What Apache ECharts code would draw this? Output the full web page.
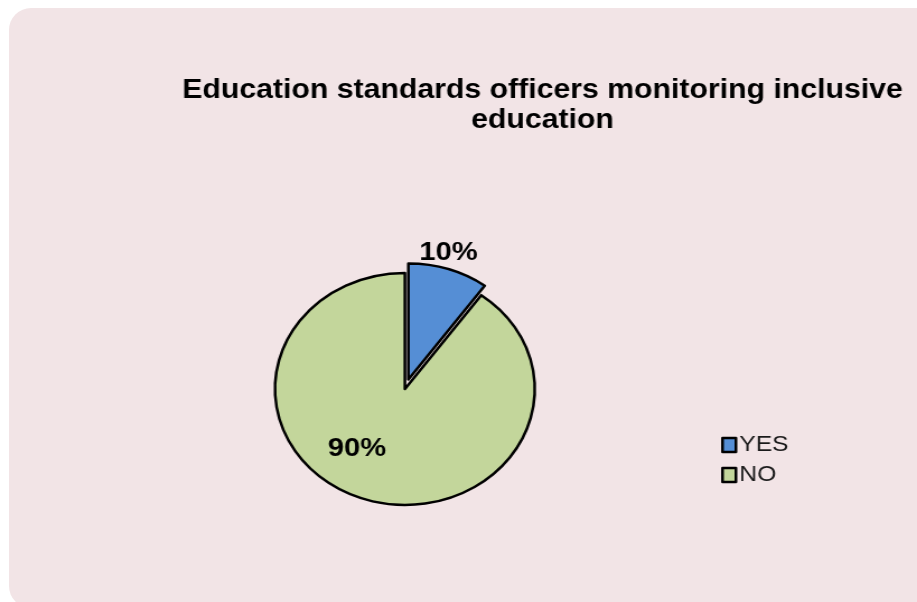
<!DOCTYPE html>
<html>
<head>
<meta charset="utf-8">
<title>Education standards officers monitoring inclusive education</title>
<script src="https://cdn.jsdelivr.net/npm/echarts@6/dist/echarts.min.js"></script>
<style>
  html, body { margin: 0; padding: 0; width: 917px; height: 602px; overflow: hidden; background: #ffffff; }
  #panel {
    position: absolute; left: 9px; top: 8px; width: 930px; height: 600px;
    background: #f2e4e6; border-radius: 22px;
  }
  /* the chart is laid out narrower and widened horizontally */
  #chart {
    position: absolute; left: 0; top: 0; width: 819px; height: 602px;
    transform: scaleX(1.1197); transform-origin: 0 0;
  }
</style>
</head>
<body>
<div id="panel"></div>
<div id="chart"></div>
<script>
// Survey answers and their percentage shares
const categories = ['YES', 'NO'];
const shares = [10, 90];
const chartTitle = 'Education standards officers monitoring inclusive\neducation';

const palette = ['#558ed5', '#c3d69b'];
const fontFamily = '"Liberation Sans", Arial, Helvetica, sans-serif';

const chart = echarts.init(document.getElementById('chart'), null, { renderer: 'canvas' });

const pieData = categories.map((name, i) => ({
  name: name,
  value: shares[i],
  selected: i === 0,
  label: { position: i === 0 ? 'outside' : 'inside' }
}));

chart.setOption({
  animation: false,
  color: palette,
  title: {
    text: chartTitle,
    left: 479.5,
    top: 71,
    textAlign: 'center',
    textStyle: {
      fontFamily: fontFamily,
      fontSize: 27,
      fontWeight: 'bold',
      color: '#000000',
      lineHeight: 30
    }
  },
  legend: {
    orient: 'vertical',
    left: 639,
    top: 429,
    itemWidth: 12,
    itemHeight: 14,
    itemGap: 8,
    icon: 'rect',
    selectedMode: false,
    data: categories,
    itemStyle: { borderColor: '#000000', borderWidth: 2.5 },
    textStyle: {
      fontFamily: fontFamily,
      fontSize: 22,
      lineHeight: 22,
      color: '#1a1a1a',
      padding: [0, 0, 0, -2]
    }
  },
  series: [{
    type: 'pie',
    center: [361.6, 389],
    radius: 116,
    startAngle: 90,
    clockwise: true,
    selectedMode: 'single',
    selectedOffset: 10,
    avoidLabelOverlap: false,
    itemStyle: { borderColor: '#000000', borderWidth: 2.5 },
    label: {
      show: true,
      formatter: '{c}%',
      fontFamily: fontFamily,
      fontSize: 26,
      fontWeight: 'bold',
      color: '#000000',
      distanceToLabelLine: 0
    },
    labelLine: { show: false, length: 0, length2: 0 },
    labelLayout: function (params) {
      if (params.dataIndex === 0) {
        return { align: 'center', verticalAlign: 'bottom', dy: -3 };
      }
      return { dx: -24, dy: 2 };
    },
    emphasis: { disabled: true },
    data: pieData
  }]
});
</script>
</body>
</html>
